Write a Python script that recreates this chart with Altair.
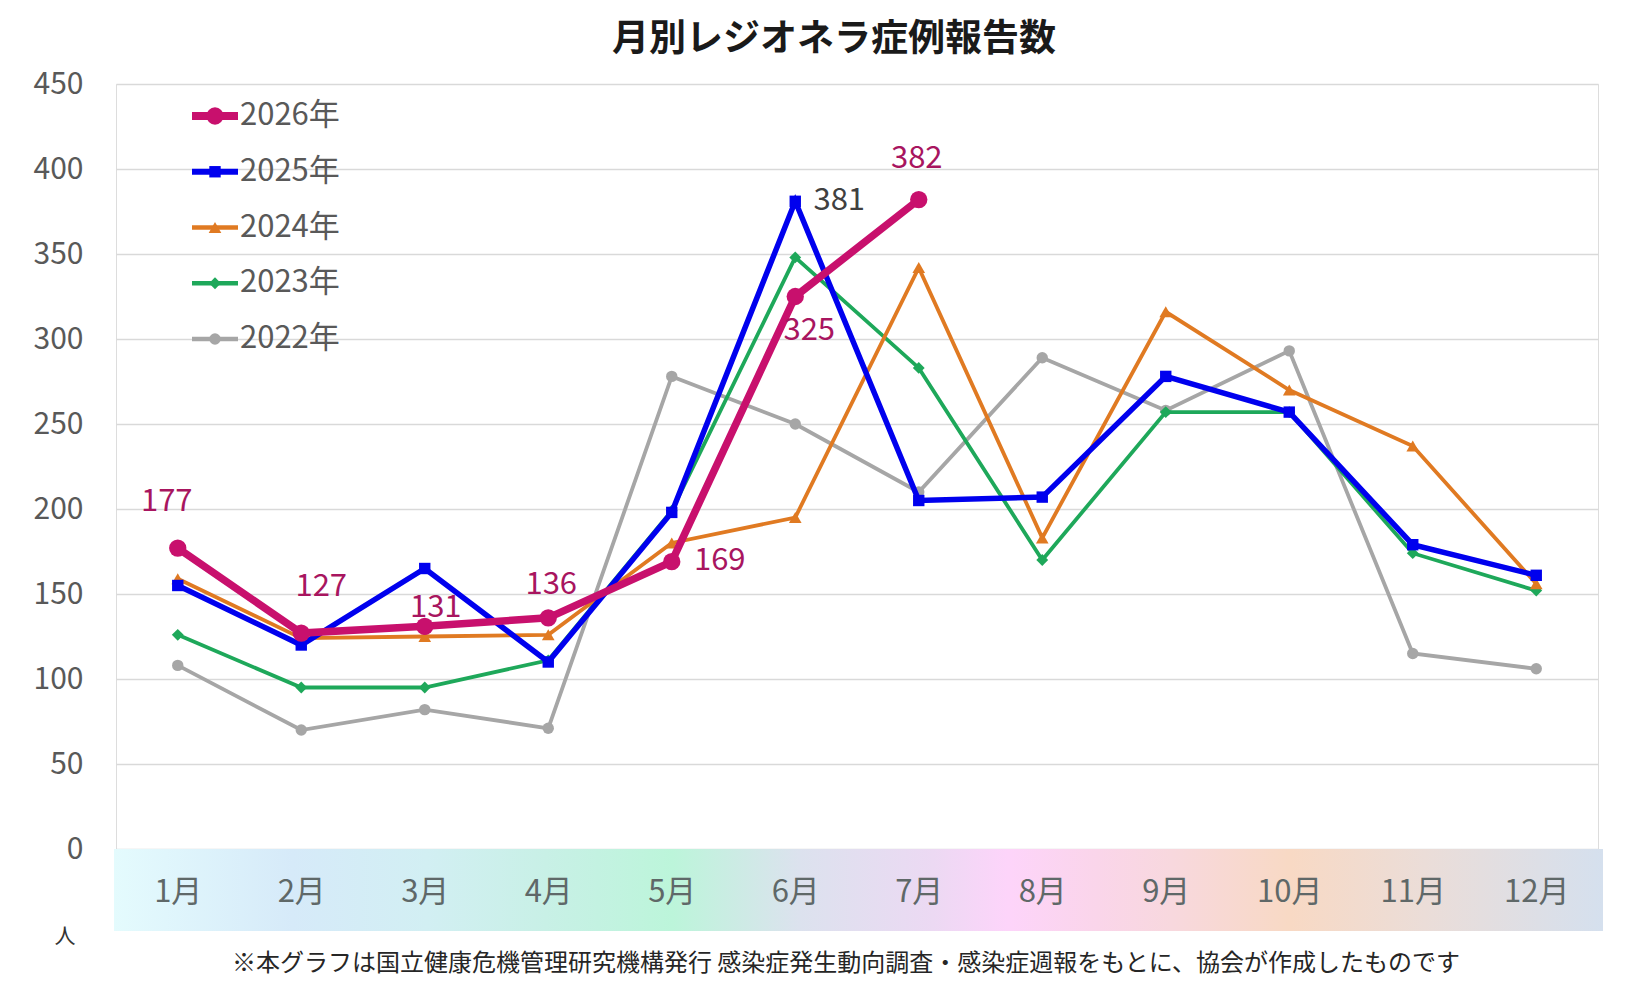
import pandas as pd
import altair as alt

FONT = "Noto Sans CJK JP"

months = ["1月", "2月", "3月", "4月", "5月", "6月", "7月", "8月", "9月", "10月", "11月", "12月"]
years = ["2026年", "2025年", "2024年", "2023年", "2022年"]

counts_2026 = [177, 127, 131, 136, 169, 325, 382]
counts_2025 = [155, 120, 165, 110, 198, 381, 205, 207, 278, 257, 179, 161]
counts_2024 = [159, 124, 125, 126, 180, 195, 342, 183, 316, 270, 237, 156]
counts_2023 = [126, 95, 95, 111, 199, 348, 283, 170, 257, 257, 174, 152]
counts_2022 = [108, 70, 82, 71, 278, 250, 210, 289, 258, 293, 115, 106]

y_ticks = [0, 50, 100, 150, 200, 250, 300, 350, 400, 450]

title_text = "月別レジオネラ症例報告数"
unit_text = "人"
note_text = "※本グラフは国立健康危機管理研究機構発行 感染症発生動向調査・感染症週報をもとに、協会が作成したものです"

# labelled points: (year, month)
labelled = [("2026年", m) for m in months[:7]] + [("2025年", "6月")]

# styles per series
style = {
    "2026年": dict(color="#c8106d", width=7.5, shape="circle", size=300),
    "2025年": dict(color="#0000ee", width=5.5, shape="square", size=130),
    "2024年": dict(color="#e07a22", width=3.8, shape="triangle-up", size=160),
    "2023年": dict(color="#1ea85a", width=3.8, shape="diamond", size=140),
    "2022年": dict(color="#a6a6a6", width=3.8, shape="circle", size=130),
}
# label offsets (dx, dy) and colours, same order as `labelled`
label_style = [(-11, -46), (20, -46), (11, -18), (3, -33), (48, -1), (14, 34), (-2, -41), (44, 0)]
label_colors = ["#a8155f"] * 7 + ["#404040"]

series = dict(zip(years, [counts_2026, counts_2025, counts_2024, counts_2023, counts_2022]))
rows = []
for yr, vals in series.items():
    for m, v in zip(months, vals):
        rows.append({"month": m, "year": yr, "count": v})
df = pd.DataFrame(rows)

W, H = 1482, 765

x_enc = alt.X(
    "month:N", sort=months,
    scale=alt.Scale(type="point", padding=0.5),
    axis=alt.Axis(title=None, labelAngle=0, labelFont=FONT, labelFontSize=31,
                  labelColor="#5f6868", labelPadding=28, ticks=False, domain=False,
                  grid=False, zindex=2),
)
y_enc = alt.Y(
    "count:Q", scale=alt.Scale(domain=[0, 450], nice=False),
    axis=alt.Axis(title=None, values=y_ticks, labelFont=FONT, labelFontSize=30,
                  labelColor="#595959", labelPadding=33, ticks=False, domain=False,
                  gridColor="#d9d9d9", gridWidth=1.5),
)

# gradient band under the x axis
band = alt.Chart(pd.DataFrame({"band": [0]})).mark_rect(
    fill={
        "gradient": "linear", "x1": 0, "x2": 1, "y1": 0, "y2": 0,
        "stops": [
            {"offset": 0.0, "color": "#e4fbfd"},
            {"offset": 0.12, "color": "#d6eaf9"},
            {"offset": 0.21, "color": "#d2eff3"},
            {"offset": 0.29, "color": "#c8f0e6"},
            {"offset": 0.375, "color": "#bcf5da"},
            {"offset": 0.46, "color": "#dce2ee"},
            {"offset": 0.55, "color": "#ecd9f3"},
            {"offset": 0.6, "color": "#fdd4fa"},
            {"offset": 0.66, "color": "#fad5ea"},
            {"offset": 0.71, "color": "#f8d8de"},
            {"offset": 0.79, "color": "#f8d9c4"},
            {"offset": 0.88, "color": "#ebddd8"},
            {"offset": 1.0, "color": "#d5e0ee"},
        ],
    }
).encode(x=alt.value(-2), x2=alt.value(W + 5), y=alt.value(H), y2=alt.value(H + 82))

main_layers = [band]
for yr in reversed(years):
    s = style[yr]
    d = df[df["year"] == yr]
    main_layers.append(
        alt.Chart(d).mark_line(color=s["color"], strokeWidth=s["width"]).encode(x=x_enc, y=y_enc)
    )
    main_layers.append(
        alt.Chart(d).mark_point(filled=True, opacity=1, color=s["color"], shape=s["shape"],
                                size=s["size"]).encode(x=x_enc, y=y_enc)
    )

for (yr, m), (dx, dy), c in zip(labelled, label_style, label_colors):
    d = df[(df["year"] == yr) & (df["month"] == m)]
    main_layers.append(
        alt.Chart(d).mark_text(font=FONT, fontSize=31, color=c, dx=dx, dy=dy).encode(
            x=x_enc, y=y_enc, text="count:Q")
    )

main_layers.append(
    alt.Chart(pd.DataFrame({"t": [unit_text]})).mark_text(
        font=FONT, fontSize=21, color="#333333").encode(
        x=alt.value(-51), y=alt.value(853), text="t:N")
)
main_layers.append(
    alt.Chart(pd.DataFrame({"t": [note_text]})).mark_text(
        font=FONT, fontSize=24, color="#262626").encode(
        x=alt.value(730), y=alt.value(880), text="t:N")
)

# hand-made legend: line + marker + label
legend_df = pd.DataFrame({"year": years, "rank": list(range(len(years)))})
ly = alt.Y("rank:Q", scale=alt.Scale(domain=[0, 4], range=[32, 255]), axis=None)
legend_layers = []
for yr in years:
    s = style[yr]
    d = legend_df[legend_df["year"] == yr]
    legend_layers.append(
        alt.Chart(d).mark_rule(color=s["color"], strokeWidth=s["width"] + 0.5).encode(
            x=alt.value(76), x2=alt.value(122), y=ly)
    )
    legend_layers.append(
        alt.Chart(d).mark_point(filled=True, opacity=1, color=s["color"], shape=s["shape"],
                                size=s["size"]).encode(x=alt.value(99), y=ly)
    )
    legend_layers.append(
        alt.Chart(d).mark_text(align="left", baseline="middle", font=FONT, fontSize=31,
                               color="#595959").encode(x=alt.value(124), y=ly, text="year:N")
    )

chart = alt.layer(alt.layer(*main_layers), alt.layer(*legend_layers)).resolve_scale(
    y="independent"
).properties(
    width=W,
    height=H,
    padding={"left": 108, "top": 76, "right": 40, "bottom": 135},
    autosize=alt.AutoSizeParams(type="none"),
    title=alt.TitleParams(title_text, font=FONT, fontSize=37, fontWeight="bold",
                          color="#1a1a1a", anchor="middle", dx=-23, offset=10),
).configure_view(
    stroke="#999999", strokeWidth=2
).configure(background="white")

chart.save("out.html", embed_options={"renderer": "svg", "actions": False})
